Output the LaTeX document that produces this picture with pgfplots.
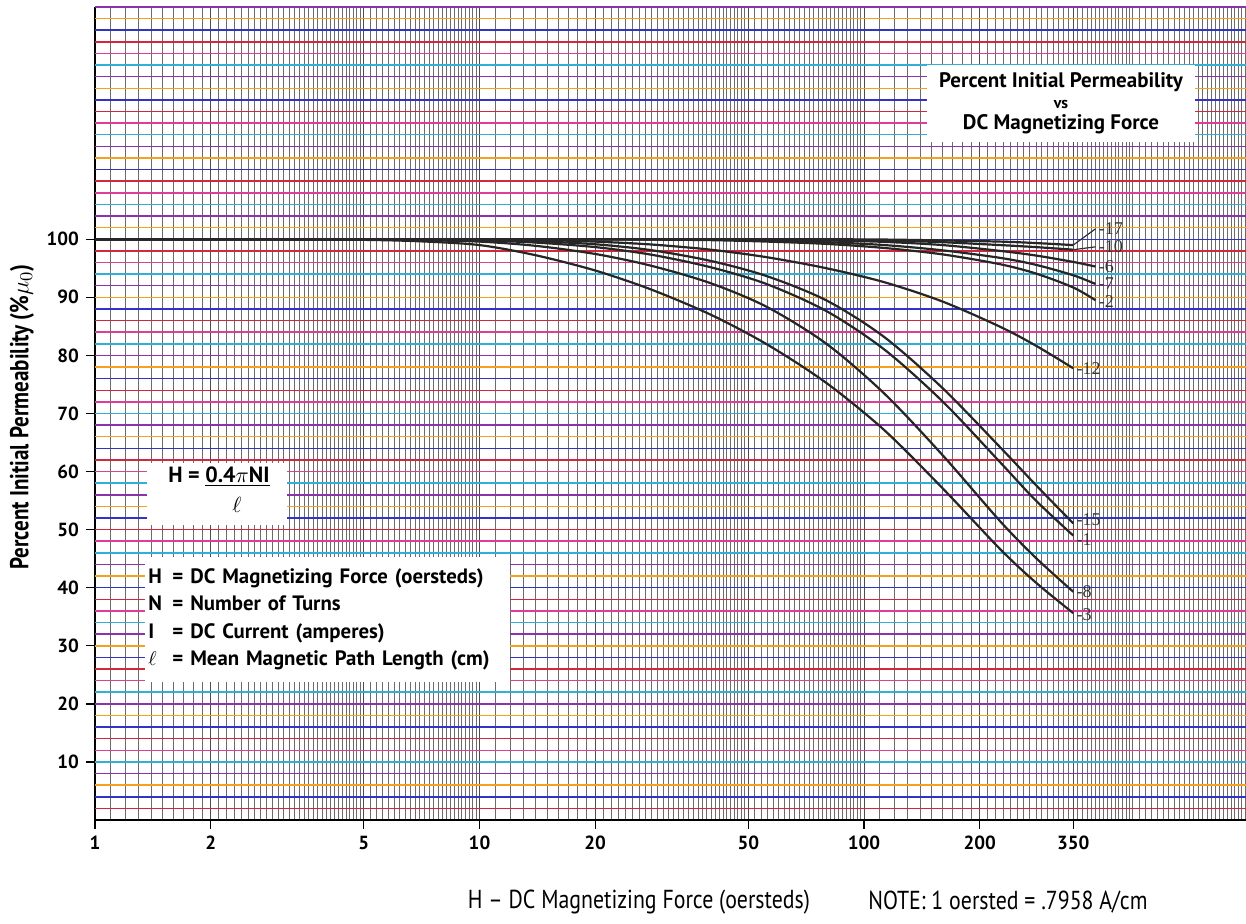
\documentclass[border=0pt]{standalone}
\usepackage{fontspec}
\setmainfont{PT Sans}
\newfontfamily\condfont[FakeStretch=0.84,Ligatures=TeX]{PT Sans}
\newfontfamily\condbold[FakeStretch=0.81,Ligatures=TeX]{PT Sans Bold}
\newfontfamily\seriffont{Liberation Serif}
\usepackage{pgfplots}
\pgfplotsset{compat=1.18}
\pgfplotsset{curve/.style={black!85, line width=1.1pt, smooth, mark=none}}

\definecolor{c1}{RGB}{210,40,60}
\definecolor{c2}{RGB}{50,50,200}
\definecolor{c3}{RGB}{245,160,30}
\definecolor{c4}{RGB}{140,50,170}
\definecolor{c5}{RGB}{50,175,215}
\definecolor{c6}{RGB}{225,60,150}

\xdef\minorlist{1}
\foreach \d in {1,10,100}{%
  \foreach \m in {11,...,50}{%
    \pgfmathsetmacro\v{\d*\m/10}%
    \xdef\minorlist{\minorlist,\v}%
  }%
  \foreach \m in {52,54,...,98}{%
    \pgfmathsetmacro\v{\d*\m/10}%
    \xdef\minorlist{\minorlist,\v}%
  }%
}

\begin{document}
\begin{tikzpicture}
\begin{axis}[
  xmode=log, log basis x=10,
  xmin=1, xmax=985, ymin=0, ymax=140,
  width=575.5pt, height=406.5pt, scale only axis,
  clip=false,
  axis lines=left, axis line style={-, black, line width=0.9pt},
  xtick={1,2,5,10,20,50,100,200,350},
  xticklabels={1,2,5,10,20,50,100,200,350},
  ytick={10,20,30,40,50,60,70,80,90,100},
  minor xtick/.expanded={\minorlist},
  xmajorgrids, xminorgrids,
  major grid style={black!70, line width=0.5pt},
  minor grid style={black!58, line width=0.45pt},
  tick align=outside, major tick length=4.5pt, minor tick length=0pt,
  tick style={black, line width=0.7pt},
  tick label style={font=\bfseries\fontsize{9.5}{11}\selectfont},
  /pgf/number format/assume math mode=true,
]
% coloured horizontal grid
\pgfplotsinvokeforeach{2,14,26,38,50,62,74,86,98,110,122,134}{\draw[c1, line width=0.75pt] (axis cs:1,#1) -- (axis cs:985,#1);}
\pgfplotsinvokeforeach{4,16,28,40,52,64,76,88,100,112,124,136}{\draw[c2, line width=0.75pt] (axis cs:1,#1) -- (axis cs:985,#1);}
\pgfplotsinvokeforeach{6,18,30,42,54,66,78,90,102,114,126,138}{\draw[c3, line width=0.75pt] (axis cs:1,#1) -- (axis cs:985,#1);}
\pgfplotsinvokeforeach{8,20,32,44,56,68,80,92,104,116,128,140}{\draw[c4, line width=0.75pt] (axis cs:1,#1) -- (axis cs:985,#1);}
\pgfplotsinvokeforeach{10,22,34,46,58,70,82,94,106,118,130}{\draw[c5, line width=0.75pt] (axis cs:1,#1) -- (axis cs:985,#1);}
\pgfplotsinvokeforeach{12,24,36,48,60,72,84,96,108,120,132}{\draw[c6, line width=0.75pt] (axis cs:1,#1) -- (axis cs:985,#1);}

% box / label positions
\coordinate (titlebox) at (rel axis cs:0.8393,0.8813);
\coordinate (formbox) at (rel axis cs:0.106,0.401);
\coordinate (defbox) at (rel axis cs:0.202,0.2466);
\coordinate (ylab) at (rel axis cs:-0.0634,0.4957);
\coordinate (xlab) at (rel axis cs:0.4726,-0.1009);
\coordinate (note) at (rel axis cs:0.7932,-0.1009);

% curves
\addplot[curve] coordinates {(1,100) (40,100) (80,100) (113,99.95) (160,99.8) (226,99.6) (280,99.35) (350,99.0)}; % -17
\addplot[curve] coordinates {(1,100) (30,100) (56,100) (80,99.95) (113,99.8) (160,99.5) (226,99.0) (280,98.65) (350,98.2)}; % -10
\addplot[curve] coordinates {(1,100) (20,100) (40,100) (56,99.95) (80,99.8) (113,99.55) (160,99.0) (226,98.0) (280,97.2) (350,96.1) (400,95.3)}; % -6
\addplot[curve] coordinates {(1,100) (14,100) (28,100) (40,99.95) (56,99.8) (80,99.5) (113,99.0) (160,98.1) (226,96.8) (280,95.6) (350,93.8) (400,92.3)}; % -7
\addplot[curve] coordinates {(1,100) (10,100) (20,100) (28,99.95) (40,99.85) (56,99.6) (80,99.2) (113,98.5) (160,97.4) (226,95.7) (280,94.1) (350,91.7) (400,89.5)}; % -2
\addplot[curve] coordinates {(1,100) (5,100) (10,100) (14,99.9) (20,99.6) (28,99.1) (40,98.2) (56,96.9) (80,95.0) (113,92.6) (160,89.28) (226,84.93) (280,81.67) (350,77.79)}; % -12
\addplot[curve] coordinates {(1,100) (3,100) (5,100) (7,99.97) (10,99.9) (14,99.68) (20,99.14) (28,98.12) (40,96.26) (56,93.63) (80,89.44) (113,83.14) (160,74.38) (226,64.18) (280,57.67) (350,51.07)}; % -15
\addplot[curve] coordinates {(1,100) (3,100) (5,100) (7,99.95) (10,99.8) (14,99.43) (20,98.65) (28,97.34) (40,95.17) (56,92.25) (80,87.6) (113,81.0) (160,72.09) (226,61.59) (280,54.99) (350,48.98)}; % -1
\addplot[curve] coordinates {(1,100) (3,100) (5,100) (7,99.85) (10,99.6) (14,98.87) (20,97.47) (28,95.43) (40,92.41) (56,88.32) (80,81.96) (113,73.41) (160,62.84) (226,51.44) (280,45.12) (350,39.3)}; % -8
\addplot[curve] coordinates {(1,100) (3,100) (5,99.9) (7,99.65) (10,99.0) (14,97.25) (20,94.62) (28,91.33) (40,86.99) (56,81.88) (80,75.21) (113,67.11) (160,57.14) (226,46.64) (280,40.87) (350,35.63)}; % -3

% leaders and curve labels
\draw[black!80, line width=0.6pt] (axis cs:350,99.0) -- (axis cs:400,101.8);
\draw[black!80, line width=0.6pt] (axis cs:350,98.2) -- (axis cs:400,98.7);
\node[anchor=west, inner sep=0.5pt, xshift=1pt, font=\seriffont\fontsize{9}{9}\selectfont, text=black!80] at (axis cs:400,101.8) {-17};
\node[anchor=west, inner sep=0.5pt, xshift=1pt, font=\seriffont\fontsize{9}{9}\selectfont, text=black!80] at (axis cs:400,98.7) {-10};
\node[anchor=west, inner sep=0.5pt, xshift=1pt, font=\seriffont\fontsize{9}{9}\selectfont, text=black!80] at (axis cs:400,95.3) {-6};
\node[anchor=west, inner sep=0.5pt, xshift=1pt, font=\seriffont\fontsize{9}{9}\selectfont, text=black!80] at (axis cs:400,92.3) {-7};
\node[anchor=west, inner sep=0.5pt, xshift=1pt, font=\seriffont\fontsize{9}{9}\selectfont, text=black!80] at (axis cs:400,89.3) {-2};
\node[anchor=west, inner sep=0.5pt, xshift=1pt, font=\seriffont\fontsize{9}{9}\selectfont, text=black!80] at (axis cs:350,77.8) {-12};
\node[anchor=west, inner sep=0.5pt, xshift=1pt, font=\seriffont\fontsize{9}{9}\selectfont, text=black!80] at (axis cs:350,51.8) {-15};
\node[anchor=west, inner sep=0.5pt, xshift=1pt, font=\seriffont\fontsize{9}{9}\selectfont, text=black!80] at (axis cs:350,48.3) {-1};
\node[anchor=west, inner sep=0.5pt, xshift=1pt, font=\seriffont\fontsize{9}{9}\selectfont, text=black!80] at (axis cs:350,39.3) {-8};
\node[anchor=west, inner sep=0.5pt, xshift=1pt, font=\seriffont\fontsize{9}{9}\selectfont, text=black!80] at (axis cs:350,35.4) {-3};
\end{axis}

% boxes
\node[fill=white, inner sep=0pt, minimum width=134pt, minimum height=38.5pt, align=center,
  font=\bfseries\fontsize{10.5}{10.5}\selectfont] at (titlebox)
  {Percent Initial Permeability\\{\fontsize{8}{9}\selectfont vs}\\DC Magnetizing Force};
\node[fill=white, inner sep=0pt, minimum width=70pt, minimum height=31pt] at (formbox) {};
\node[inner sep=0pt, font=\bfseries\fontsize{11}{12}\selectfont] at ([shift={(1pt,8.5pt)}]formbox)
  {H = \underline{0.4$\pi$NI}};
\node[inner sep=0pt, font=\bfseries\fontsize{11}{12}\selectfont] at ([shift={(10pt,-5.5pt)}]formbox)
  {$\ell$};
\node[fill=white, inner sep=0pt, minimum width=182.5pt, minimum height=62.5pt,
  text width=179pt, align=left,
  font=\bfseries\fontsize{10.4}{13.75}\selectfont] at (defbox)
  {\makebox[1.15em][l]{H}= DC Magnetizing Force (oersteds)\\
   \makebox[1.15em][l]{N}= Number of Turns\\
   \makebox[1.15em][l]{I}= DC Current (amperes)\\
   \makebox[1.15em][l]{$\ell$}= Mean Magnetic Path Length (cm)};

% axis titles
\node[rotate=90, font=\condbold\fontsize{13}{14}\selectfont] at (ylab)
  {Percent Initial Permeability (\%$\mu_0$)};
\node[font=\condfont\fontsize{13}{14}\selectfont] at (xlab)
  {H – DC Magnetizing Force (oersteds)};
\node[font=\condfont\fontsize{13}{14}\selectfont] at (note)
  {NOTE: 1 oersted = .7958 A/cm};

\pgfresetboundingbox
\useasboundingbox ([shift={(-47.5pt,-52pt)}]current axis.south west) rectangle ([shift={(0pt,3.5pt)}]current axis.north east);
\end{tikzpicture}
\end{document}
